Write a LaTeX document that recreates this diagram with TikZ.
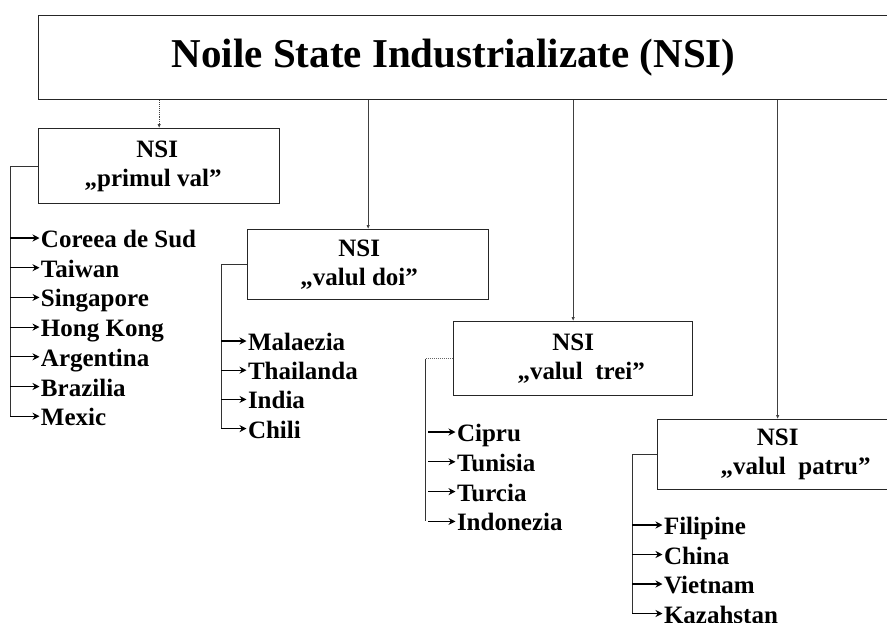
\documentclass[tikz,border=0pt]{standalone}
\usepackage{fontspec}
\setmainfont{Liberation Serif}
\usetikzlibrary{arrows.meta}
\tikzset{
    title-box/.style = {draw=black!85, line width=1.3pt, rectangle, inner sep=0pt, font=\fontsize{41}{48}\selectfont\bfseries},
    wave-box/.style = {draw=black!85, line width=1.3pt, rectangle, inner sep=0pt, align=center, font=\fontsize{25}{29}\selectfont\bfseries},
    country/.style = {anchor=west, inner sep=0pt, outer xsep=1.5pt, text height=19pt, text depth=0pt, font=\fontsize{25}{29}\selectfont\bfseries},
    down-link/.style = {draw=black!75, line width=0.9pt, -{Latex[length=4pt,width=3.5pt]}},
    bracket/.style = {draw=black!80, line width=1pt},
    item-arrow/.style = {draw=black, line width=1.1pt, -{Stealth[length=7pt,width=7pt]}},
}
\begin{document}
\begin{tikzpicture}[x=1pt, y=-1pt]
\useasboundingbox (0,0) rectangle (887,622);
\clip (0,0) rectangle (887,622);

\node [title-box, anchor=north west, minimum width=862pt, minimum height=84pt] (nsi) at (38,15) {Noile State Industrializate (NSI)\hspace*{32pt}};

\node [wave-box, anchor=north west, minimum width=241pt, minimum height=75pt] (wave1) at (38,128) {NSI\hspace*{4pt}\\„primul val”\hspace*{12pt}};
\node [wave-box, anchor=north west, minimum width=241pt, minimum height=70pt] (wave2) at (247,229) {NSI\hspace*{18pt}\\„valul doi”\hspace*{18pt}};
\node [wave-box, anchor=north west, minimum width=239pt, minimum height=74pt] (wave3) at (453,321) {NSI\\\hspace*{16pt}„valul~ trei”};
\node [wave-box, anchor=north west, minimum width=240pt, minimum height=70pt] (wave4) at (657,419) {NSI\\\hspace*{36pt}„valul~ patru”};

% links from the main box
\draw [down-link, densely dotted] (wave1.north |- nsi.south) -- (wave1.north);
\foreach \w in {2,3,4}
    \draw [down-link] (wave\w.north |- nsi.south) -- (wave\w.north);

% rails on the left of each box
\coordinate (rail1) at (10,0);
\coordinate (rail2) at (221,0);
\coordinate (rail3) at (425,0);
\coordinate (rail4) at (632,0);

% countries
\foreach \name [count=\i] in {Coreea de Sud, Taiwan, Singapore, Hong Kong, Argentina, Brazilia, Mexic}
    \node [country] (a\i) at (39.5, {238+29.7*(\i-1)}) {\name};
\foreach \name [count=\i] in {Malaezia, Thailanda, India, Chili}
    \node [country] (b\i) at (246.5, {341+29.2*(\i-1)}) {\name};
\foreach \name [count=\i] in {Cipru, Tunisia, Turcia, Indonezia}
    \node [country] (c\i) at (455.5, {432+29.8*(\i-1)}) {\name};
\foreach \name [count=\i] in {Filipine, China, Vietnam, Kazahstan}
    \node [country] (d\i) at (662.5, {525+29.5*(\i-1)}) {\name};

\draw [bracket] (wave1.west) -- (wave1.west -| rail1) -- (rail1 |- a7.west);
\draw [bracket] (wave2.west) -- (wave2.west -| rail2) -- (rail2 |- b4.west);
\draw [bracket] (rail3 |- wave3.west) -- (rail3 |- c4.west);
\draw [bracket, densely dotted, black!60] (wave3.west) -- (wave3.west -| rail3);
\draw [bracket] (wave4.west) -- (wave4.west -| rail4) -- (rail4 |- d4.west);

\foreach \i in {1,...,7}
    \draw [item-arrow] (rail1 |- a\i.west) -- (a\i.west);
\foreach \i in {1,...,4} {
    \draw [item-arrow] (rail2 |- b\i.west) -- (b\i.west);
    \draw [item-arrow] ([xshift=3pt]rail3 |- c\i.west) -- (c\i.west);
    \draw [item-arrow] (rail4 |- d\i.west) -- (d\i.west);
}
\end{tikzpicture}
\end{document}
